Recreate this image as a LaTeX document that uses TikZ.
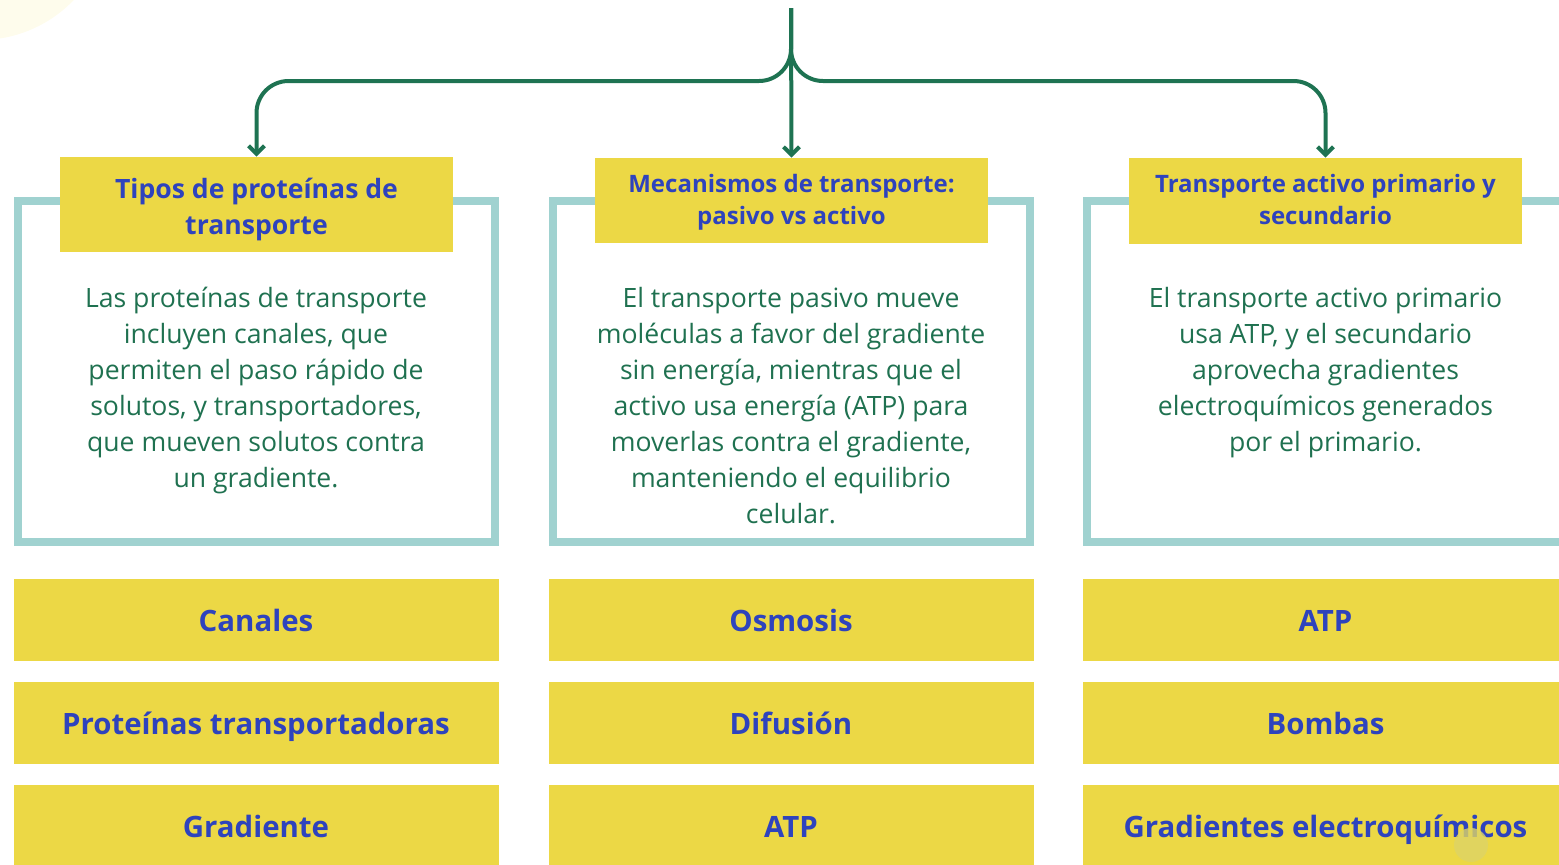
\documentclass[tikz,border=0pt]{standalone}
\usepackage{fontspec}
\setmainfont{Open Sans}
\usetikzlibrary{arrows.meta,positioning}
\definecolor{linegreen}{HTML}{1E7352}
\definecolor{textgreen}{HTML}{1F7150}
\definecolor{boxyellow}{HTML}{ECD845}
\definecolor{titleblue}{HTML}{2E43BD}
\definecolor{frameteal}{HTML}{A0D2D0}
\definecolor{paleyellow}{HTML}{FEFCEC}
\definecolor{dotyellow}{HTML}{DDD466}

\begin{document}
\begin{tikzpicture}[x=0.5pt,y=-0.5pt, >={Straight Barb[length=4pt,width=8pt]},
    frame/.style={draw=frameteal, line width=4pt, minimum width=238.5pt,
        minimum height=170.5pt, inner sep=0pt},
    title/.style={fill=boxyellow, text=titleblue, align=center,
        minimum width=196.5pt, inner sep=0pt},
    body/.style={text=textgreen, align=center, inner sep=0pt,
        font=\fontsize{13.3}{18}\selectfont},
    keyword/.style={fill=boxyellow, text=titleblue, minimum width=242.5pt,
        minimum height=41pt, inner sep=0pt, text height=14.5pt, text depth=3pt,
        font=\fontsize{14.7}{16}\bfseries},
    link/.style={draw=linegreen, line width=2pt, rounded corners=16pt, ->}]
    \useasboundingbox (0,0) rectangle (1559,864);
    % decoration
    \fill[paleyellow] (-20,-90) circle (130);
    % frames
    \node[frame] (frameA) at (256,371.5) {};
    \node[frame] (frameB) at (791,371.5) {};
    \node[frame] (frameC) at (1325.5,371.5) {};
    % headings
    \node[title, minimum height=47.5pt, font=\fontsize{13.3}{18}\bfseries]
        (titleA) at (256.5,204.5) {\rule{0pt}{15.5pt}Tipos de proteínas de\\transporte};
    \node[title, minimum height=42.5pt, font=\fontsize{12}{16}\bfseries]
        (titleB) at (791.5,200.5) {\rule{0pt}{11pt}Mecanismos de transporte:\\pasivo vs activo};
    \node[title, minimum height=43pt, font=\fontsize{12}{16}\bfseries]
        (titleC) at (1325.5,201) {Transporte activo primario y\\secundario\rule[-2pt]{0pt}{0pt}};
    % texts
    \node[body, anchor=north] (bodyA) at (256,287) {Las proteínas de transporte\\
        incluyen canales, que\\permiten el paso rápido de\\solutos, y transportadores,\\
        que mueven solutos contra\\un gradiente.};
    \node[body, anchor=north] (bodyB) at (791,287) {El transporte pasivo mueve\\
        moléculas a favor del gradiente\\sin energía, mientras que el\\
        activo usa energía (ATP) para\\moverlas contra el gradiente,\\
        manteniendo el equilibrio\\celular.};
    \node[body, anchor=north] (bodyC) at (1325.5,287) {El transporte activo primario\\
        usa ATP, y el secundario\\aprovecha gradientes\\electroquímicos generados\\
        por el primario.};
    % keywords
    \node[keyword, below=16.5pt of frameA] (keyA1) {Canales};
    \node[keyword, below=10pt of keyA1] (keyA2) {Proteínas transportadoras};
    \node[keyword, below=10pt of keyA2] (keyA3) {Gradiente};
    \node[keyword, below=16.5pt of frameB] (keyB1) {Osmosis};
    \node[keyword, below=10pt of keyB1] (keyB2) {Difusión};
    \node[keyword, below=10pt of keyB2] (keyB3) {ATP};
    \node[keyword, below=16.5pt of frameC] (keyC1) {ATP};
    \node[keyword, below=10pt of keyC1] (keyC2) {Bombas};
    \node[keyword, below=10pt of keyC2] (keyC3) {Gradientes electroquímicos};
    \fill[dotyellow, opacity=0.8] (1471,845) circle (17);
    % connectors
    \coordinate (top) at (791,8);
    \coordinate (hub) at (791,81);
    \draw[link] (top) -- (hub) -| (titleA.north);
    \draw[link] (top) -- (hub) -| (titleC.north);
    \draw[link] (top) -- (titleB.north);
\end{tikzpicture}
\end{document}
